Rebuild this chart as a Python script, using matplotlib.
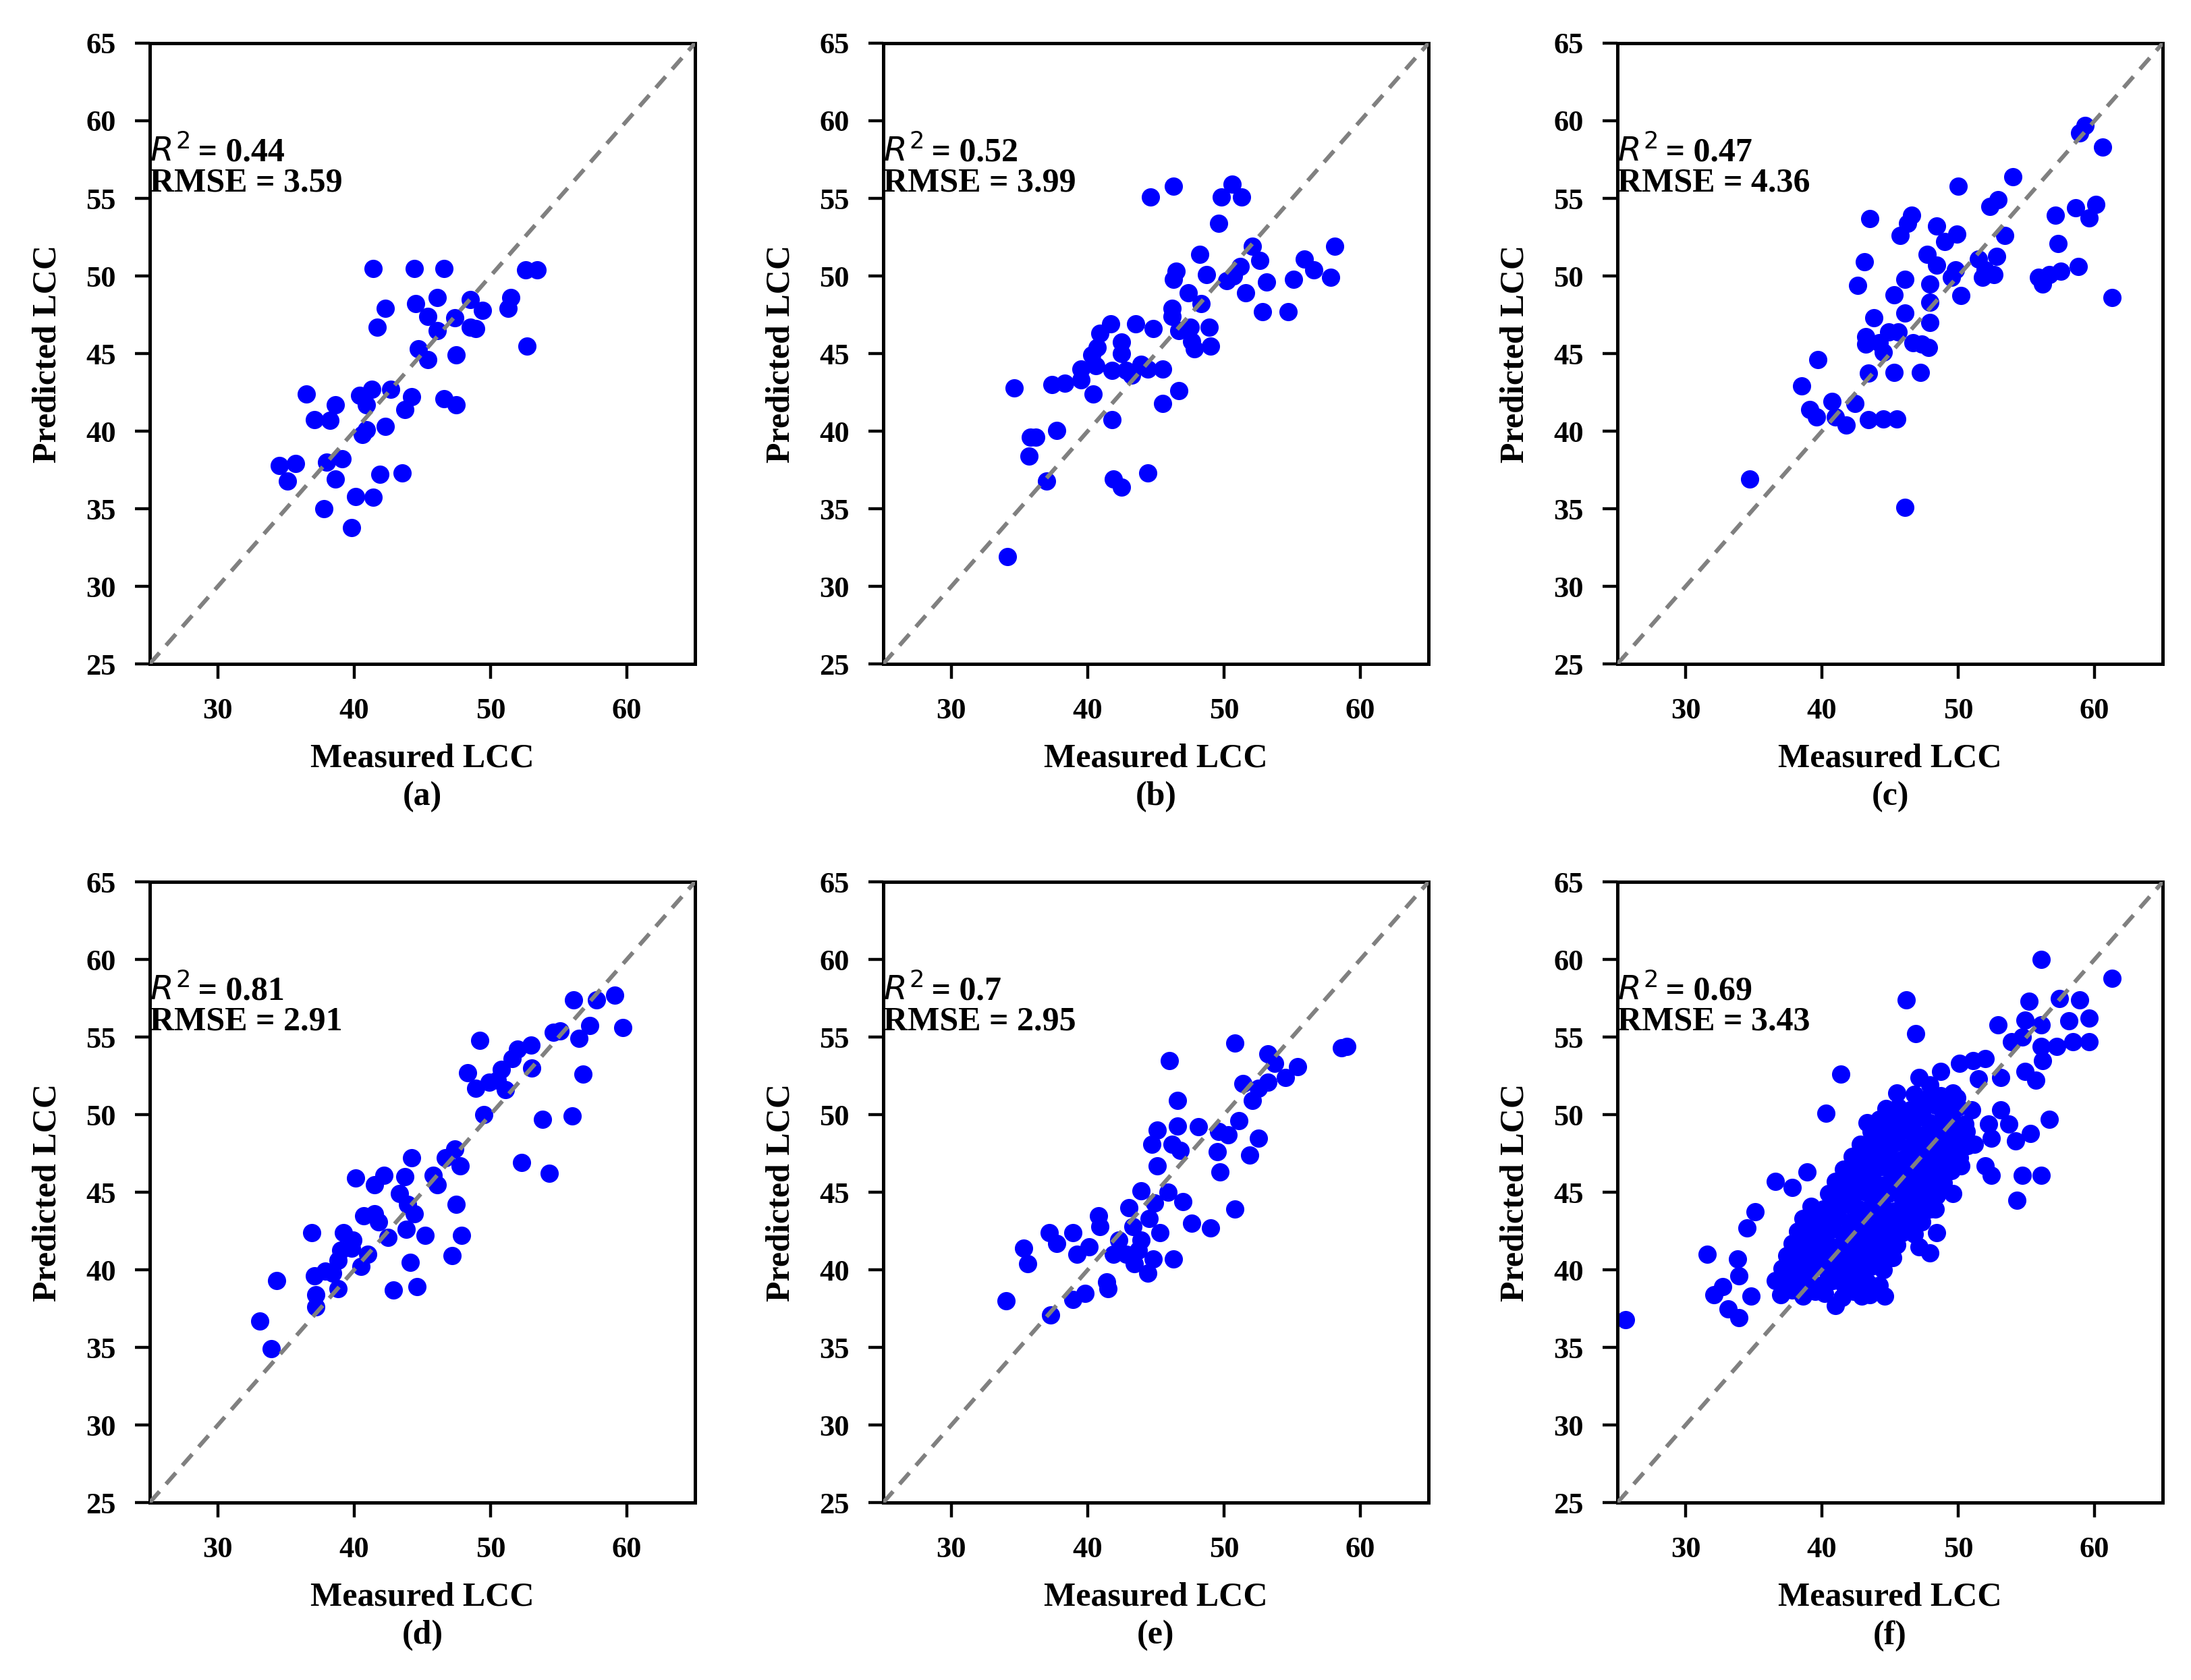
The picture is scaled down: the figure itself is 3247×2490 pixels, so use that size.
import numpy as np
import matplotlib.pyplot as plt

plt.rcParams['font.family'] = ['Liberation Serif', 'DejaVu Sans']
plt.rcParams['mathtext.fontset'] = 'dejavusans'

# (a)
a_x = [41.4, 44.4, 46.6, 52.6, 53.4, 46.1, 48.5, 51.5, 51.3, 42.3, 44.5, 49.4, 45.4, 47.4,
       41.7, 46.1, 48.5, 48.9, 44.7, 45.4, 47.5, 52.7, 36.5, 38.6, 40.4, 41.3, 40.9, 42.7,
       44.2, 43.7, 46.6, 47.5, 37.1, 38.2, 40.9, 40.6, 42.3, 34.5, 35.7, 35.1, 38.0, 39.1,
       38.6, 41.9, 43.5, 40.1, 41.4, 37.8, 39.8]
a_y = [50.5, 50.5, 50.5, 50.4, 50.4, 48.6, 48.5, 48.6, 47.9, 47.9, 48.2, 47.8, 47.4, 47.3,
       46.7, 46.5, 46.7, 46.6, 45.3, 44.6, 44.9, 45.5, 42.4, 41.7, 42.3, 42.7, 41.7, 42.7,
       42.2, 41.4, 42.1, 41.7, 40.75, 40.7, 40.1, 39.8, 40.3, 37.8, 37.9, 36.8, 38.0, 38.2,
       36.9, 37.2, 37.3, 35.8, 35.75, 35.0, 33.8]

# (b)
b_x = [44.6, 46.3, 50.6, 49.8, 51.3, 49.6, 52.1, 58.1, 48.2, 52.6, 55.9, 56.6, 55.1, 57.8,
       46.5, 46.3, 48.7, 51.2, 50.7, 50.2, 53.1, 51.6, 47.4, 48.3, 52.8, 54.7, 46.2, 46.2,
       46.7, 47.5, 48.9, 47.6, 47.8, 49.0, 41.7, 43.5, 44.8, 40.9, 40.7, 42.5, 42.5, 40.3,
       39.5, 40.6, 41.8, 42.8, 43.9, 44.4, 45.5, 43.2, 37.4, 38.3, 39.5, 40.4, 34.6, 46.7,
       45.5, 41.8, 37.7, 35.8, 36.2, 35.7, 37.0, 41.9, 42.5, 44.4, 34.1]
b_y = [55.1, 55.8, 55.9, 55.1, 55.1, 53.4, 51.9, 51.9, 51.4, 51.0, 51.1, 50.4, 49.8, 49.9,
       50.3, 49.8, 50.1, 50.6, 50.0, 49.7, 49.6, 48.9, 48.9, 48.2, 47.7, 47.7, 47.9, 47.4,
       46.5, 46.7, 46.7, 45.8, 45.3, 45.5, 46.9, 46.9, 46.6, 46.3, 45.4, 45.75, 45.0, 44.9,
       44.0, 44.2, 43.9, 43.9, 44.3, 44.0, 44.0, 43.6, 43.0, 43.1, 43.3, 42.4, 42.8, 42.6,
       41.8, 40.75, 40.05, 39.6, 39.6, 38.4, 36.8, 36.9, 36.4, 37.3, 31.9]

# (c)
c_x = [59.3, 58.9, 60.6, 54.0, 50.0, 52.9, 52.3, 58.6, 60.1, 59.6, 57.1, 43.5, 46.6, 46.3,
       48.4, 49.9, 49.0, 45.75, 53.4, 57.3, 43.1, 47.7, 48.4, 51.5, 52.8, 49.8, 52.0, 51.8,
       52.6, 49.5, 55.9, 56.2, 56.7, 57.5, 58.8, 42.6, 46.1, 47.9, 45.3, 50.2, 47.9, 61.3,
       43.8, 46.1, 47.9, 43.2, 44.9, 45.6, 43.2, 44.2, 44.5, 46.7, 47.3, 47.8, 39.7, 43.4,
       45.3, 47.2, 38.5, 40.75, 42.4, 39.1, 39.6, 41.0, 41.8, 43.4, 44.5, 45.5, 34.7, 46.1]
c_y = [59.7, 59.2, 58.3, 56.4, 55.8, 54.9, 54.5, 54.4, 54.6, 53.75, 53.9, 53.7, 53.9, 53.4,
       53.2, 52.7, 52.2, 52.6, 52.6, 52.1, 50.9, 51.4, 50.7, 51.1, 51.25, 50.4, 50.4, 49.9,
       50.1, 49.9, 49.9, 49.5, 50.1, 50.3, 50.6, 49.4, 49.8, 49.5, 48.8, 48.75, 48.3, 48.6,
       47.3, 47.6, 47.0, 46.1, 46.4, 46.4, 45.6, 45.7, 45.1, 45.7, 45.6, 45.4, 44.6, 43.75,
       43.8, 43.8, 42.9, 41.9, 41.8, 41.4, 40.9, 40.9, 40.4, 40.75, 40.8, 40.8, 36.9, 35.1]

# (d)
d_x = [56.1, 57.8, 59.1, 59.7, 57.3, 56.5, 54.6, 55.1, 49.2, 52.96, 52.0, 51.6, 53.0, 56.8,
       48.3, 50.8, 50.5, 49.9, 48.9, 51.1, 49.5, 56.0, 53.8, 52.3, 54.3, 47.4, 46.7, 47.8,
       45.8, 46.1, 44.2, 43.7, 40.1, 42.2, 41.5, 43.3, 43.9, 47.5, 40.7, 41.5, 41.8, 44.4,
       43.8, 42.5, 45.2, 47.9, 36.9, 39.2, 39.9, 39.0, 39.8, 41.0, 40.5, 38.8, 38.4, 44.1,
       47.2, 37.1, 37.9, 38.8, 42.9, 44.6, 34.3, 37.2, 37.2, 33.1, 33.9]
d_y = [57.4, 57.4, 57.7, 55.6, 55.75, 54.9, 55.3, 55.4, 54.8, 54.5, 54.2, 53.6, 53.0, 52.6,
       52.7, 52.9, 52.2, 52.1, 51.7, 51.6, 50.0, 49.9, 49.7, 46.9, 46.2, 47.8, 47.2, 46.7,
       46.1, 45.5, 47.2, 46.0, 45.9, 46.1, 45.5, 44.9, 44.2, 44.2, 43.5, 43.6, 43.1, 43.6,
       42.6, 42.1, 42.2, 42.2, 42.4, 42.4, 41.9, 41.25, 41.4, 41.0, 40.2, 40.6, 39.8, 40.5,
       40.9, 39.6, 39.9, 38.8, 38.7, 38.9, 39.3, 38.4, 37.6, 36.7, 34.9]

# (e)
e_x = [50.8, 58.6, 59.0, 46.0, 53.2, 53.7, 55.4, 54.5, 53.2, 51.4, 52.5, 52.1, 46.6, 51.1,
       46.6, 48.1, 49.6, 50.3, 52.5, 45.1, 44.7, 46.2, 46.8, 49.5, 51.9, 45.1, 49.7, 43.9,
       45.9, 47.0, 44.9, 43.0, 50.8, 40.8, 44.5, 47.6, 49.0, 40.9, 45.3, 43.3, 37.2, 38.9,
       42.3, 43.9, 37.7, 35.3, 40.1, 39.2, 41.9, 42.8, 43.7, 44.8, 46.3, 43.4, 35.6, 44.4,
       41.4, 41.5, 39.8, 38.9, 34.0, 37.3]
e_y = [54.6, 54.3, 54.4, 53.5, 53.9, 53.3, 53.1, 52.4, 52.1, 52.0, 51.7, 50.9, 50.9, 49.6,
       49.25, 49.2, 48.9, 48.7, 48.5, 49.0, 48.1, 48.1, 47.7, 47.6, 47.4, 46.7, 46.3, 45.1,
       45.0, 44.4, 44.3, 44.0, 43.9, 43.5, 43.3, 43.0, 42.7, 42.8, 42.4, 42.8, 42.4, 42.4,
       41.9, 41.9, 41.7, 41.4, 41.5, 41.0, 41.0, 41.0, 41.25, 40.7, 40.7, 40.4, 40.4, 39.8,
       39.2, 38.8, 38.5, 38.1, 38.0, 37.1]

# (f) outliers and edges
f_x = [56.1, 61.3, 46.2, 46.9, 41.4, 40.3, 56.7, 55.3, 54.7, 56.1, 54.3, 48.4, 47.9, 47.1,
       31.6, 33.8, 34.5, 35.1, 36.6, 37.8, 38.9, 25.6, 32.1, 33.1, 33.9, 34.8, 33.9, 32.7,
       41.0, 44.6, 42.9,
       55.2, 57.4, 58.9, 59.6, 54.9, 52.9, 56.1, 58.1, 59.6, 58.4, 57.2, 56.1, 53.9, 54.7,
       56.2, 55.7, 54.9, 53.1, 52.0, 51.1, 50.1, 48.7, 47.1, 47.9, 51.5, 45.5, 44.7, 43.3,
       47.3, 49.9, 51.0, 53.1, 53.7, 52.2, 52.4, 51.2, 54.2, 50.2, 52.0, 52.4, 49.6, 48.3,
       45.1,
       # dense band
       37.0, 37.8, 38.6, 39.5, 40.2, 41.5, 42.3, 43.5, 44.0,
       36.6, 37.4, 38.2, 39.0, 39.9, 40.8, 41.6, 42.5, 43.3, 44.2,
       37.1, 38.0, 38.8, 39.6, 40.4, 41.2, 42.0, 42.8, 43.6, 44.5,
       37.4, 38.3, 39.1, 40.0, 40.9, 41.7, 42.6, 43.4, 44.3, 45.2,
       37.8, 38.6, 39.4, 40.3, 41.2, 42.0, 42.9, 43.8, 44.6, 45.5,
       38.2, 39.0, 39.9, 40.8, 41.6, 42.5, 43.3, 44.2, 45.0, 45.9, 46.8,
       38.6, 39.5, 40.4, 41.2, 42.1, 43.0, 43.8, 44.7, 45.6, 46.4, 47.3,
       39.2, 40.1, 41.0, 41.9, 42.7, 43.6, 44.5, 45.3, 46.2, 47.0, 47.9,
       40.5, 41.4, 42.3, 43.2, 44.0, 44.9, 45.8, 46.6, 47.5, 48.4,
       41.0, 41.9, 42.8, 43.7, 44.6, 45.4, 46.3, 47.2, 48.0, 48.9,
       41.6, 42.5, 43.4, 44.2, 45.1, 46.0, 46.9, 47.7, 48.6, 49.5,
       42.2, 43.1, 44.0, 44.9, 45.8, 46.6, 47.5, 48.4, 49.2, 50.1,
       42.8, 43.7, 44.6, 45.5, 46.4, 47.2, 48.1, 49.0, 49.8, 50.7,
       43.6, 44.5, 45.4, 46.3, 47.1, 48.0, 48.9, 49.7, 50.6,
       44.2, 45.2, 46.1, 47.0, 47.9, 48.8, 49.6, 50.5,
       45.6, 46.5, 47.4, 48.3, 49.2, 50.0,
       46.8, 47.8, 48.7, 49.6]
f_y = [60.0, 58.8, 57.4, 55.2, 52.6, 50.1, 49.7, 48.8, 46.1, 46.1, 44.5, 42.4, 41.1, 41.5,
       41.0, 40.7, 42.7, 43.75, 45.7, 45.3, 46.3, 36.8, 38.4, 37.5, 36.9, 38.3, 39.6, 38.9,
       37.7, 38.3, 38.3,
       57.3, 57.5, 57.4, 56.2, 56.1, 55.8, 55.8, 56.05, 54.7, 54.7, 54.4, 54.4, 54.7, 55.0,
       53.5, 52.2, 52.8, 52.4, 53.6, 53.5, 53.3, 52.8, 52.4, 51.9, 52.3, 51.4, 50.4, 49.5,
       50.7, 51.1, 50.3, 50.3, 49.4, 49.4, 48.5, 48.1, 48.3, 46.7, 46.7, 46.1, 44.9, 43.9,
       41.1,
       38.4, 38.7, 38.3, 38.6, 38.5, 38.2, 38.6, 38.4, 38.7,
       39.3, 39.1, 39.4, 39.2, 39.0, 39.3, 39.1, 39.4, 39.2, 39.0,
       40.1, 39.9, 40.0, 40.2, 39.9, 40.1, 40.0, 39.8, 40.2, 40.0,
       40.9, 40.7, 40.8, 41.0, 40.7, 40.9, 40.8, 40.6, 40.9, 40.8,
       41.7, 41.5, 41.6, 41.8, 41.5, 41.7, 41.6, 41.4, 41.7, 41.6,
       42.5, 42.3, 42.4, 42.6, 42.3, 42.5, 42.4, 42.2, 42.5, 42.4, 42.3,
       43.3, 43.1, 43.2, 43.4, 43.1, 43.3, 43.2, 43.0, 43.3, 43.2, 43.1,
       44.1, 43.9, 44.0, 44.2, 43.9, 44.1, 44.0, 43.8, 44.1, 44.0, 43.9,
       44.9, 44.7, 44.8, 45.0, 44.7, 44.9, 44.8, 44.6, 44.9, 44.8,
       45.7, 45.5, 45.6, 45.8, 45.5, 45.7, 45.6, 45.4, 45.7, 45.6,
       46.5, 46.3, 46.4, 46.6, 46.3, 46.5, 46.4, 46.2, 46.5, 46.4,
       47.3, 47.1, 47.2, 47.4, 47.1, 47.3, 47.2, 47.0, 47.3, 47.2,
       48.1, 47.9, 48.0, 48.2, 47.9, 48.1, 48.0, 47.8, 48.1, 48.0,
       48.9, 48.7, 48.8, 49.0, 48.7, 48.9, 48.8, 48.6, 48.9,
       49.7, 49.5, 49.6, 49.8, 49.5, 49.7, 49.6, 49.4,
       50.5, 50.3, 50.4, 50.6, 50.3, 50.5,
       51.3, 51.1, 51.2, 51.4]

r2_vals = ['0.44', '0.52', '0.47', '0.81', '0.7', '0.69']
rmse_vals = ['3.59', '3.99', '4.36', '2.91', '2.95', '3.43']
panel_labels = ['(a)', '(b)', '(c)', '(d)', '(e)', '(f)']

data = [(a_x, a_y), (b_x, b_y), (c_x, c_y), (d_x, d_y), (e_x, e_y), (f_x, f_y)]

fig = plt.figure(figsize=(16.24, 12.45), dpi=200)

lefts = [0.0683, 0.4030, 0.7380]
bottoms = [0.6048, 0.1056]
w = 0.2488
h = 0.3695

for i, (xs, ys) in enumerate(data):
    row = i // 3
    col = i % 3
    ax = fig.add_axes([lefts[col], bottoms[row], w, h])
    line, = ax.plot([25, 65], [25, 65], linestyle='--', color='gray', linewidth=2.2, zorder=3)
    line.set_dashes([3.6, 2.4])
    ax.scatter(xs, ys, s=95, color='blue', zorder=2, linewidths=0)
    ax.set_xlim(25, 65)
    ax.set_ylim(25, 65)
    ax.set_xticks([30, 40, 50, 60])
    ax.set_yticks([25, 30, 35, 40, 45, 50, 55, 60, 65])
    ax.tick_params(direction='out', length=8, width=1.6, labelsize=16, pad=10)
    for lab in ax.get_xticklabels() + ax.get_yticklabels():
        lab.set_fontweight('bold')
    for sp in ax.spines.values():
        sp.set_linewidth(1.8)
    # R^2 in plain mathtext, value in bold serif right after it
    t1 = ax.text(25, 57.4, r'$R^2$', fontsize=18, fontweight='normal', va='baseline', ha='left')
    ax.annotate(' = ' + r2_vals[i], xy=(1, 0), xycoords=t1, fontsize=18, fontweight='bold',
                va='bottom', ha='left')
    ax.text(25, 56.0, 'RMSE = ' + rmse_vals[i], fontsize=18, fontweight='bold', va='center', ha='left')
    ax.set_xlabel('Measured LCC\n' + panel_labels[i], fontsize=18, fontweight='bold', labelpad=10,
                  linespacing=1.3)
    ax.set_ylabel('Predicted LCC', fontsize=18, fontweight='bold', labelpad=12)

fig.savefig('out.png', dpi=200)
